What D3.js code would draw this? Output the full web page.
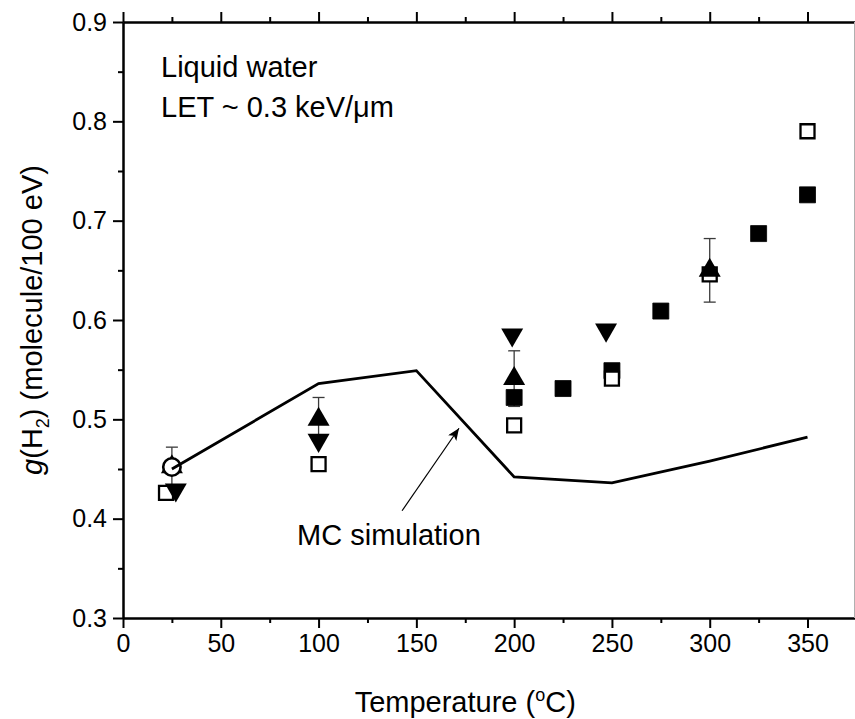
<!DOCTYPE html>
<html>
<head>
<meta charset="utf-8">
<script src="https://cdn.jsdelivr.net/npm/d3@7"></script>
<style>
  html, body { margin: 0; padding: 0; background: #fff; }
  svg { display: block; font-family: "Liberation Sans", Arial, Helvetica, sans-serif; }
</style>
</head>
<body>
<svg id="chart" width="855" height="719"></svg>
<script>
// Radiolytic H2 yield of liquid water as a function of temperature

// Open squares
const openSquareT = [22, 100, 200, 250, 300, 350];
const openSquareG = [0.426, 0.455, 0.494, 0.541, 0.646, 0.790];
// Filled squares
const filledSquareT = [200, 225, 250, 275, 325, 350];
const filledSquareG = [0.522, 0.531, 0.549, 0.609, 0.687, 0.726];
// Up triangles with error bars
const upTriT = [25, 100, 200, 300];
const upTriG = [0.452, 0.500, 0.541, 0.650];
const upTriErr = [0.020, 0.022, 0.028, 0.032];
// Down triangles
const downTriT = [27, 100, 199, 247];
const downTriG = [0.429, 0.479, 0.585, 0.590];
// Open circle
const circleT = [25];
const circleG = [0.452];
// Monte Carlo simulation curve
const mcT = [25, 100, 150, 200, 250, 300, 350];
const mcG = [0.450, 0.536, 0.549, 0.442, 0.436, 0.458, 0.482];

// Axis ticks
const xMajorTicks = [0, 50, 100, 150, 200, 250, 300, 350];
const xMinorTicks = [25, 75, 125, 175, 225, 275, 325];
const yMajorTicks = [0.3, 0.4, 0.5, 0.6, 0.7, 0.8, 0.9];
const yMinorTicks = [0.35, 0.45, 0.55, 0.65, 0.75, 0.85];

const svg = d3.select("#chart");
const plotLeft = 123, plotTop = 22, plotBottom = 618;

const x = d3.scaleLinear().domain([0, 375]).range([plotLeft, 856.4]);
const y = d3.scaleLinear().domain([0.3, 0.9]).range([plotBottom, plotTop]);

const axisColor = "#000";

// --- axes ---
const gx = svg.append("g").attr("transform", `translate(0,${plotBottom})`);
gx.call(d3.axisBottom(x).tickValues(xMajorTicks).tickSize(10).tickSizeOuter(0).tickPadding(6).tickFormat(d3.format("d")));
gx.append("g").call(d3.axisBottom(x).tickValues(xMinorTicks).tickSize(5).tickSizeOuter(0).tickFormat(""));

const gt = svg.append("g").attr("transform", `translate(0,${plotTop})`);
gt.call(d3.axisTop(x).tickValues(xMajorTicks).tickSize(10).tickSizeOuter(0).tickFormat(""));
gt.append("g").call(d3.axisTop(x).tickValues(xMinorTicks).tickSize(5).tickSizeOuter(0).tickFormat(""));

const gy = svg.append("g").attr("transform", `translate(${plotLeft},0)`);
gy.call(d3.axisLeft(y).tickValues(yMajorTicks).tickSize(10).tickSizeOuter(0).tickPadding(6).tickFormat(d3.format(".1f")));
gy.append("g").call(d3.axisLeft(y).tickValues(yMinorTicks).tickSize(5).tickSizeOuter(0).tickFormat(""));

svg.selectAll(".domain").attr("stroke", axisColor).attr("stroke-width", 2);
svg.selectAll(".tick line").attr("stroke", axisColor).attr("stroke-width", 2);
svg.selectAll(".tick text").attr("fill", "#000").style("font-size", "25px")
   .style("font-family", '"Liberation Sans", Arial, sans-serif');

// frame edge on the right
svg.append("line").attr("x1", 854.5).attr("x2", 854.5).attr("y1", plotTop).attr("y2", plotBottom)
   .attr("stroke", "#b0b0b0").attr("stroke-width", 1);

// --- axis titles ---
const xt = svg.append("text").attr("x", (x(0) + x(350)) / 2).attr("y", 712)
  .attr("text-anchor", "middle").style("font-size", "29px");
xt.append("tspan").text("Temperature (");
xt.append("tspan").attr("dy", -11).style("font-size", "18px").text("o");
xt.append("tspan").attr("dy", 11).text("C)");

const yt = svg.append("text")
  .attr("transform", `translate(42,${(plotTop + plotBottom) / 2}) rotate(-90)`)
  .attr("text-anchor", "middle").style("font-size", "29px");
yt.append("tspan").style("font-style", "italic").text("g");
yt.append("tspan").text("(H");
yt.append("tspan").attr("dy", 7).style("font-size", "18px").text("2");
yt.append("tspan").attr("dy", -7).text(") (molecule/100 eV)");

// --- annotations ---
svg.append("text").attr("x", 161).attr("y", 77).style("font-size", "29px").text("Liquid water");
svg.append("text").attr("x", 161).attr("y", 117).style("font-size", "29px").text("LET ~ 0.3 keV/\u03bcm");

const plot = svg.append("g");

// --- error bars (behind markers) ---
const capW = 6;
upTriT.forEach((t, i) => {
  const cx = x(t), y1 = y(upTriG[i] + upTriErr[i]), y2 = y(upTriG[i] - upTriErr[i]);
  const eb = plot.append("g").attr("stroke", "#3a3a3a").attr("stroke-width", 1.3);
  eb.append("line").attr("x1", cx).attr("x2", cx).attr("y1", y1).attr("y2", y2);
  eb.append("line").attr("x1", cx - capW).attr("x2", cx + capW).attr("y1", y1).attr("y2", y1);
  eb.append("line").attr("x1", cx - capW).attr("x2", cx + capW).attr("y1", y2).attr("y2", y2);
});

// --- markers ---
const squareFilled = d3.symbol().type(d3.symbolSquare).size(16 * 16);
plot.selectAll(".fsq").data(filledSquareT).join("path")
  .attr("transform", (t, i) => `translate(${x(t)},${y(filledSquareG[i])})`)
  .attr("d", squareFilled()).attr("fill", "#000")
  .attr("stroke", "#000").attr("stroke-width", 0.8).attr("stroke-linejoin", "round");

const squareOpen = d3.symbol().type(d3.symbolSquare).size(14 * 14);
plot.selectAll(".osq").data(openSquareT).join("path")
  .attr("transform", (t, i) => `translate(${x(t)},${y(openSquareG[i])})`)
  .attr("d", squareOpen()).attr("fill", "#fff")
  .attr("stroke", "#000").attr("stroke-width", 2.3);

const triSize = Math.sqrt(3) / 4 * 22 * 22;
const tri = d3.symbol().type(d3.symbolTriangle).size(triSize);
plot.selectAll(".utri").data(upTriT).join("path")
  .attr("transform", (t, i) => `translate(${x(t)},${y(upTriG[i])})`)
  .attr("d", tri()).attr("fill", "#000");

plot.selectAll(".dtri").data(downTriT).join("path")
  .attr("transform", (t, i) => `translate(${x(t)},${y(downTriG[i])}) rotate(180)`)
  .attr("d", tri()).attr("fill", "#000");

plot.selectAll(".circ").data(circleT).join("circle")
  .attr("cx", t => x(t)).attr("cy", (t, i) => y(circleG[i])).attr("r", 8.7)
  .attr("fill", "#fff").attr("stroke", "#000").attr("stroke-width", 2.6);

// --- simulation curve ---
const line = d3.line().x(d => x(d[0])).y(d => y(d[1]));
plot.append("path").datum(mcT.map((t, i) => [t, mcG[i]]))
  .attr("d", line).attr("fill", "none").attr("stroke", "#000")
  .attr("stroke-width", 2.8).attr("stroke-linejoin", "miter");

// --- label with arrow pointing to the curve ---
svg.append("defs").append("marker").attr("id", "arrowhead")
  .attr("viewBox", "0 0 12 10").attr("refX", 12).attr("refY", 5)
  .attr("markerWidth", 12).attr("markerHeight", 10).attr("markerUnits", "userSpaceOnUse")
  .attr("orient", "auto")
  .append("path").attr("d", "M0,0 L12,5 L0,10 L3,5 Z").attr("fill", "#000");

svg.append("line")
  .attr("x1", x(142.7)).attr("y1", y(0.408))
  .attr("x2", x(171.8)).attr("y2", y(0.491))
  .attr("stroke", "#000").attr("stroke-width", 1.2)
  .attr("marker-end", "url(#arrowhead)");

svg.append("text").attr("x", x(89)).attr("y", y(0.3735))
  .style("font-size", "29px").text("MC simulation");
</script>
</body>
</html>
